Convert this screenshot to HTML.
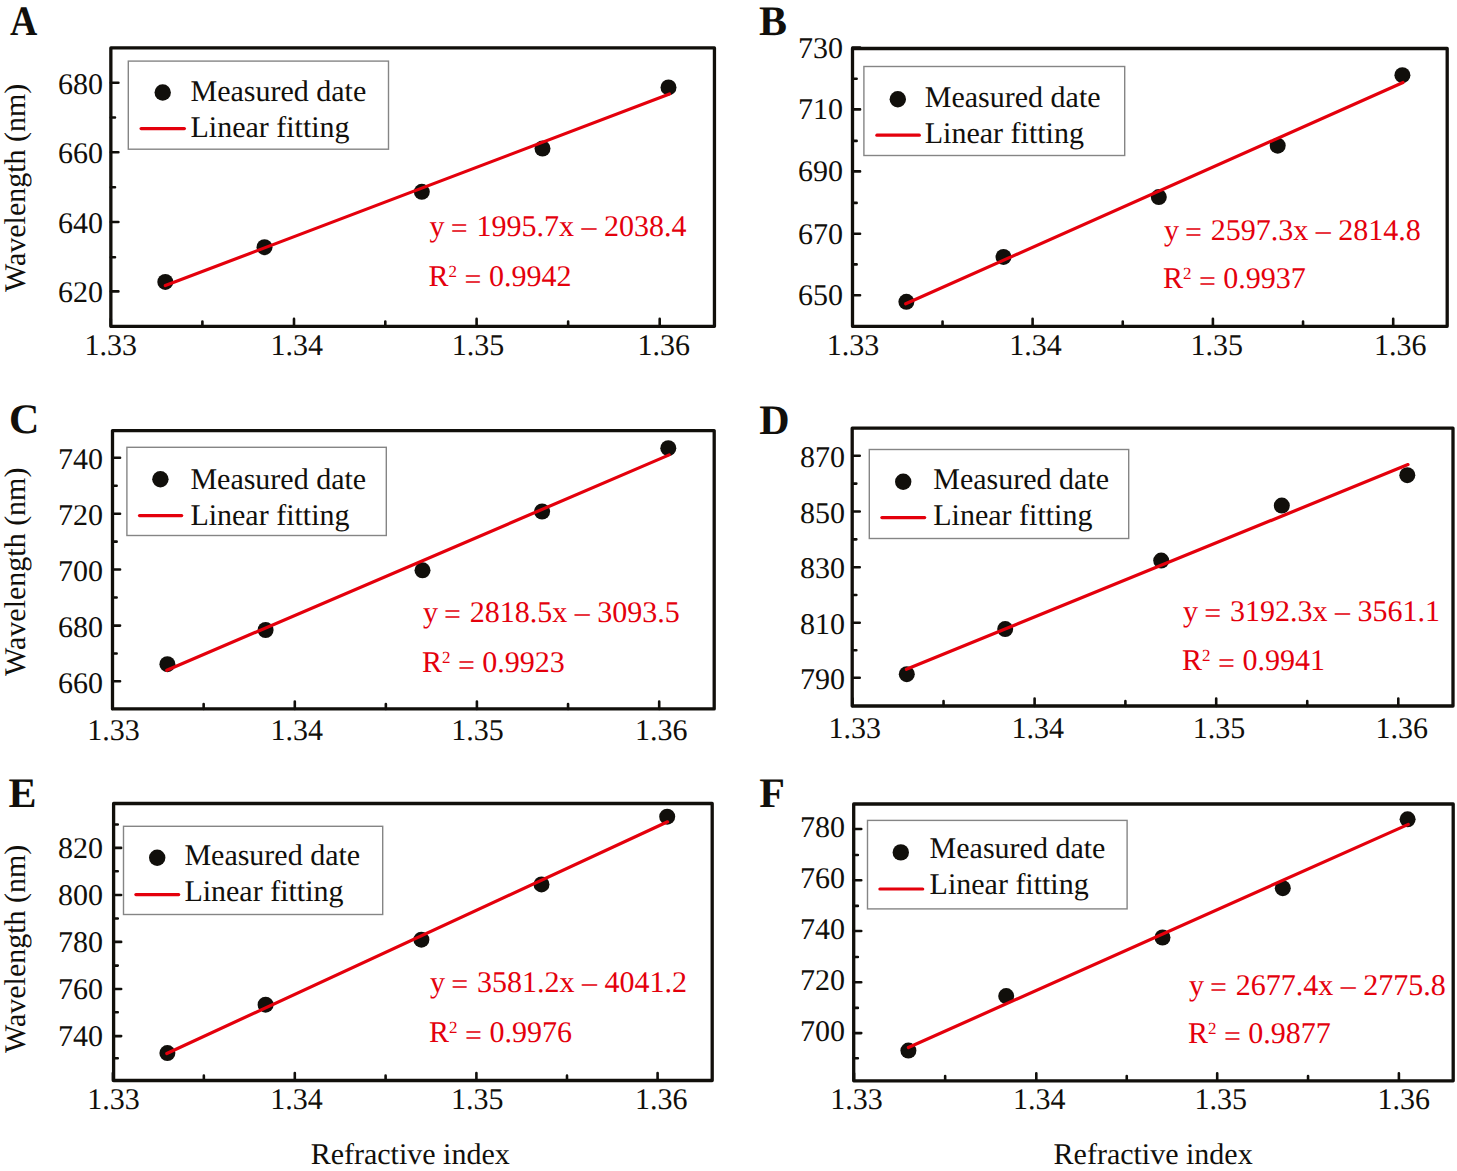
<!DOCTYPE html>
<html><head><meta charset="utf-8"><style>
html,body{margin:0;padding:0;background:#fff;}
text{text-rendering:geometricPrecision;-webkit-font-smoothing:antialiased;}
svg{display:block;}
</style></head><body>
<svg width="1457" height="1171" viewBox="0 0 1457 1171" font-family="Liberation Serif" font-size="30" fill="#110f0b">
<rect width="1457" height="1171" fill="#fff"/>
<path d="M110.80 326.35V318.90 M294.00 326.35V318.90 M476.60 326.35V318.90 M659.70 326.35V318.90 M202.40 326.35V321.50 M385.30 326.35V321.50 M568.15 326.35V321.50 M110.85 82.80H118.40 M110.85 152.20H118.40 M110.85 222.00H118.40 M110.85 291.40H118.40 M110.85 117.50H115.00 M110.85 187.30H115.00 M110.85 257.20H115.00" stroke="#110f0b" stroke-width="2.6" fill="none" stroke-linecap="round"/>
<rect x="110.85" y="47.95" width="603.60" height="278.40" fill="none" stroke="#110f0b" stroke-width="3.3" stroke-linejoin="round"/>
<text x="58.00" y="93.80">680</text>
<text x="58.00" y="163.20">660</text>
<text x="58.00" y="233.00">640</text>
<text x="58.00" y="302.40">620</text>
<text x="84.45" y="355.00">1.33</text>
<text x="270.50" y="355.00">1.34</text>
<text x="451.70" y="355.00">1.35</text>
<text x="637.40" y="355.00">1.36</text>
<circle cx="165.30" cy="281.90" r="8.0" fill="#110f0b"/>
<circle cx="264.50" cy="247.20" r="8.0" fill="#110f0b"/>
<circle cx="421.80" cy="191.80" r="8.0" fill="#110f0b"/>
<circle cx="542.50" cy="148.50" r="8.0" fill="#110f0b"/>
<circle cx="668.50" cy="87.40" r="8.0" fill="#110f0b"/>
<path d="M165.30 285.60L669.50 94.00" stroke="#e4000c" stroke-width="3.2" fill="none" stroke-linecap="round"/>
<rect x="128.30" y="61.10" width="260.20" height="88.10" fill="#fff" stroke="#858585" stroke-width="1.4"/>
<circle cx="162.70" cy="92.50" r="8.2" fill="#110f0b"/>
<path d="M141.10 128.60H184.40" stroke="#e4000c" stroke-width="3.2" stroke-linecap="round"/>
<text x="190.50" y="101.10">Measured date</text>
<text x="190.50" y="136.90">Linear fitting</text>
<text x="429.60" y="236.10" fill="#e4000c">y <tspan dx="-1.3" dy="2.3">=</tspan><tspan dx="1.3" dy="-2.3"> 1995.7x – 2038.4</tspan></text>
<text x="428.60" y="285.90" fill="#e4000c">R<tspan font-size="17" dy="-9">2</tspan><tspan dy="9"> </tspan><tspan dy="2.8">=</tspan><tspan dy="-2.8"> 0.9942</tspan></text>
<text transform="translate(9.90 35.00) scale(0.9 1)" x="0.00" y="0" font-size="42" font-weight="700">A</text>
<text transform="translate(25.10 292.00) rotate(-90)" x="0" y="0">Wavelength (nm)</text>
<path d="M852.50 326.30V318.85 M1032.60 326.30V318.85 M1212.90 326.30V318.85 M1393.20 326.30V318.85 M942.55 326.30V321.45 M1122.75 326.30V321.45 M1303.05 326.30V321.45 M852.50 47.50H860.05 M852.50 109.40H860.05 M852.50 171.40H860.05 M852.50 233.70H860.05 M852.50 295.20H860.05 M852.50 78.70H856.65 M852.50 140.90H856.65 M852.50 202.90H856.65 M852.50 264.40H856.65" stroke="#110f0b" stroke-width="2.6" fill="none" stroke-linecap="round"/>
<rect x="852.50" y="48.50" width="594.70" height="277.80" fill="none" stroke="#110f0b" stroke-width="3.3" stroke-linejoin="round"/>
<text x="797.90" y="57.50">730</text>
<text x="797.90" y="119.40">710</text>
<text x="797.90" y="181.40">690</text>
<text x="797.90" y="243.70">670</text>
<text x="797.90" y="305.20">650</text>
<text x="826.70" y="354.80">1.33</text>
<text x="1009.15" y="354.80">1.34</text>
<text x="1190.60" y="354.80">1.35</text>
<text x="1374.00" y="354.80">1.36</text>
<circle cx="906.40" cy="301.80" r="8.0" fill="#110f0b"/>
<circle cx="1003.50" cy="256.90" r="8.0" fill="#110f0b"/>
<circle cx="1158.80" cy="197.10" r="8.0" fill="#110f0b"/>
<circle cx="1277.70" cy="145.70" r="8.0" fill="#110f0b"/>
<circle cx="1402.40" cy="75.20" r="8.0" fill="#110f0b"/>
<path d="M905.70 303.80L1403.00 82.50" stroke="#e4000c" stroke-width="3.2" fill="none" stroke-linecap="round"/>
<rect x="863.90" y="66.50" width="260.80" height="89.00" fill="#fff" stroke="#858585" stroke-width="1.4"/>
<circle cx="897.80" cy="99.20" r="8.2" fill="#110f0b"/>
<path d="M876.90 135.20H919.30" stroke="#e4000c" stroke-width="3.2" stroke-linecap="round"/>
<text x="924.80" y="107.10">Measured date</text>
<text x="924.80" y="142.60">Linear fitting</text>
<text x="1163.90" y="239.60" fill="#e4000c">y <tspan dx="-1.3" dy="2.3">=</tspan><tspan dx="1.3" dy="-2.3"> 2597.3x – 2814.8</tspan></text>
<text x="1162.90" y="288.10" fill="#e4000c">R<tspan font-size="17" dy="-9">2</tspan><tspan dy="9"> </tspan><tspan dy="2.8">=</tspan><tspan dy="-2.8"> 0.9937</tspan></text>
<text transform="translate(760.10 35.00) scale(1.0 1)" x="-1.00" y="0" font-size="42" font-weight="700">B</text>
<path d="M112.50 708.90V701.45 M294.80 708.90V701.45 M476.90 708.90V701.45 M659.20 708.90V701.45 M203.65 708.90V704.05 M385.85 708.90V704.05 M568.05 708.90V704.05 M112.50 457.70H120.05 M112.50 513.80H120.05 M112.50 569.50H120.05 M112.50 625.60H120.05 M112.50 681.30H120.05 M112.50 485.75H116.65 M112.50 541.65H116.65 M112.50 597.55H116.65 M112.50 653.45H116.65" stroke="#110f0b" stroke-width="2.6" fill="none" stroke-linecap="round"/>
<rect x="112.50" y="430.60" width="601.70" height="278.30" fill="none" stroke="#110f0b" stroke-width="3.3" stroke-linejoin="round"/>
<text x="58.10" y="469.00">740</text>
<text x="58.10" y="525.10">720</text>
<text x="58.10" y="580.80">700</text>
<text x="58.10" y="636.90">680</text>
<text x="58.10" y="692.60">660</text>
<text x="87.35" y="739.80">1.33</text>
<text x="270.50" y="739.80">1.34</text>
<text x="451.30" y="739.80">1.35</text>
<text x="635.00" y="739.80">1.36</text>
<circle cx="167.40" cy="664.20" r="8.0" fill="#110f0b"/>
<circle cx="265.60" cy="630.00" r="8.0" fill="#110f0b"/>
<circle cx="422.50" cy="570.30" r="8.0" fill="#110f0b"/>
<circle cx="542.10" cy="511.50" r="8.0" fill="#110f0b"/>
<circle cx="668.30" cy="448.20" r="8.0" fill="#110f0b"/>
<path d="M166.80 670.30L669.20 454.90" stroke="#e4000c" stroke-width="3.2" fill="none" stroke-linecap="round"/>
<rect x="126.90" y="447.30" width="259.40" height="88.20" fill="#fff" stroke="#858585" stroke-width="1.4"/>
<circle cx="160.40" cy="479.20" r="8.2" fill="#110f0b"/>
<path d="M139.50 515.60H181.70" stroke="#e4000c" stroke-width="3.2" stroke-linecap="round"/>
<text x="190.40" y="488.70">Measured date</text>
<text x="190.40" y="524.60">Linear fitting</text>
<text x="422.90" y="622.10" fill="#e4000c">y <tspan dx="-1.3" dy="2.3">=</tspan><tspan dx="1.3" dy="-2.3"> 2818.5x – 3093.5</tspan></text>
<text x="421.90" y="672.10" fill="#e4000c">R<tspan font-size="17" dy="-9">2</tspan><tspan dy="9"> </tspan><tspan dy="2.8">=</tspan><tspan dy="-2.8"> 0.9923</tspan></text>
<text transform="translate(11.00 433.00) scale(1.0 1)" x="-2.00" y="0" font-size="42" font-weight="700">C</text>
<text transform="translate(25.10 675.90) rotate(-90)" x="0" y="0">Wavelength (nm)</text>
<path d="M852.50 706.00V698.55 M1034.60 706.00V698.55 M1216.20 706.00V698.55 M1398.30 706.00V698.55 M943.55 706.00V701.15 M1125.40 706.00V701.15 M1307.25 706.00V701.15 M852.20 455.70H859.75 M852.20 511.50H859.75 M852.20 567.20H859.75 M852.20 622.70H859.75 M852.20 677.80H859.75 M852.20 483.60H856.35 M852.20 539.35H856.35 M852.20 594.95H856.35 M852.20 650.25H856.35" stroke="#110f0b" stroke-width="2.6" fill="none" stroke-linecap="round"/>
<rect x="852.20" y="428.20" width="600.80" height="277.80" fill="none" stroke="#110f0b" stroke-width="3.3" stroke-linejoin="round"/>
<text x="800.00" y="466.70">870</text>
<text x="800.00" y="522.50">850</text>
<text x="800.00" y="578.20">830</text>
<text x="800.00" y="633.70">810</text>
<text x="800.00" y="688.80">790</text>
<text x="828.50" y="738.20">1.33</text>
<text x="1011.40" y="738.20">1.34</text>
<text x="1192.70" y="738.20">1.35</text>
<text x="1375.50" y="738.20">1.36</text>
<circle cx="906.80" cy="674.20" r="8.0" fill="#110f0b"/>
<circle cx="1005.20" cy="629.10" r="8.0" fill="#110f0b"/>
<circle cx="1161.20" cy="560.60" r="8.0" fill="#110f0b"/>
<circle cx="1281.80" cy="505.60" r="8.0" fill="#110f0b"/>
<circle cx="1407.30" cy="475.20" r="8.0" fill="#110f0b"/>
<path d="M906.40 669.30L1408.00 464.60" stroke="#e4000c" stroke-width="3.2" fill="none" stroke-linecap="round"/>
<rect x="869.30" y="449.50" width="259.40" height="89.00" fill="#fff" stroke="#858585" stroke-width="1.4"/>
<circle cx="903.20" cy="481.80" r="8.2" fill="#110f0b"/>
<path d="M881.90 517.60H924.70" stroke="#e4000c" stroke-width="3.2" stroke-linecap="round"/>
<text x="933.30" y="488.90">Measured date</text>
<text x="933.30" y="525.00">Linear fitting</text>
<text x="1183.10" y="621.10" fill="#e4000c">y <tspan dx="-1.3" dy="2.3">=</tspan><tspan dx="1.3" dy="-2.3"> 3192.3x – 3561.1</tspan></text>
<text x="1182.10" y="670.20" fill="#e4000c">R<tspan font-size="17" dy="-9">2</tspan><tspan dy="9"> </tspan><tspan dy="2.8">=</tspan><tspan dy="-2.8"> 0.9941</tspan></text>
<text transform="translate(760.30 433.50) scale(1.0 1)" x="-1.00" y="0" font-size="42" font-weight="700">D</text>
<path d="M112.90 1080.50V1073.05 M294.80 1080.50V1073.05 M476.40 1080.50V1073.05 M657.60 1080.50V1073.05 M203.85 1080.50V1075.65 M385.60 1080.50V1075.65 M567.00 1080.50V1075.65 M113.60 847.90H121.15 M113.60 895.00H121.15 M113.60 941.90H121.15 M113.60 989.00H121.15 M113.60 1036.10H121.15 M113.60 824.50H117.75 M113.60 871.30H117.75 M113.60 918.50H117.75 M113.60 965.60H117.75 M113.60 1012.20H117.75 M113.60 1058.30H117.75" stroke="#110f0b" stroke-width="2.6" fill="none" stroke-linecap="round"/>
<rect x="113.60" y="803.50" width="598.60" height="277.00" fill="none" stroke="#110f0b" stroke-width="3.3" stroke-linejoin="round"/>
<text x="58.10" y="858.00">820</text>
<text x="58.10" y="905.10">800</text>
<text x="58.10" y="952.00">780</text>
<text x="58.10" y="999.10">760</text>
<text x="58.10" y="1046.20">740</text>
<text x="87.35" y="1109.30">1.33</text>
<text x="270.20" y="1109.30">1.34</text>
<text x="451.00" y="1109.30">1.35</text>
<text x="635.00" y="1109.30">1.36</text>
<circle cx="167.40" cy="1053.10" r="8.0" fill="#110f0b"/>
<circle cx="265.60" cy="1004.70" r="8.0" fill="#110f0b"/>
<circle cx="421.40" cy="939.70" r="8.0" fill="#110f0b"/>
<circle cx="541.50" cy="884.40" r="8.0" fill="#110f0b"/>
<circle cx="667.20" cy="816.70" r="8.0" fill="#110f0b"/>
<path d="M166.80 1053.50L667.60 821.80" stroke="#e4000c" stroke-width="3.2" fill="none" stroke-linecap="round"/>
<rect x="123.50" y="826.30" width="259.20" height="88.20" fill="#fff" stroke="#858585" stroke-width="1.4"/>
<circle cx="157.20" cy="857.80" r="8.2" fill="#110f0b"/>
<path d="M135.90 894.60H178.70" stroke="#e4000c" stroke-width="3.2" stroke-linecap="round"/>
<text x="184.40" y="864.60">Measured date</text>
<text x="184.40" y="901.00">Linear fitting</text>
<text x="430.00" y="992.10" fill="#e4000c">y <tspan dx="-1.3" dy="2.3">=</tspan><tspan dx="1.3" dy="-2.3"> 3581.2x – 4041.2</tspan></text>
<text x="429.00" y="1042.10" fill="#e4000c">R<tspan font-size="17" dy="-9">2</tspan><tspan dy="9"> </tspan><tspan dy="2.8">=</tspan><tspan dy="-2.8"> 0.9976</tspan></text>
<text transform="translate(9.40 806.50) scale(1.0 1)" x="-1.00" y="0" font-size="42" font-weight="700">E</text>
<text transform="translate(25.10 1053.00) rotate(-90)" x="0" y="0">Wavelength (nm)</text>
<text x="310.70" y="1163.80">Refractive index</text>
<path d="M854.00 1080.80V1073.35 M1036.30 1080.80V1073.35 M1217.20 1080.80V1073.35 M1398.90 1080.80V1073.35 M945.15 1080.80V1075.95 M1126.75 1080.80V1075.95 M1308.05 1080.80V1075.95 M853.70 829.00H861.25 M853.70 880.20H861.25 M853.70 931.00H861.25 M853.70 982.20H861.25 M853.70 1033.10H861.25 M853.70 855.00H857.85 M853.70 905.90H857.85 M853.70 957.00H857.85 M853.70 1007.90H857.85 M853.70 1058.30H857.85" stroke="#110f0b" stroke-width="2.6" fill="none" stroke-linecap="round"/>
<rect x="853.70" y="804.00" width="599.50" height="276.80" fill="none" stroke="#110f0b" stroke-width="3.3" stroke-linejoin="round"/>
<text x="800.00" y="836.60">780</text>
<text x="800.00" y="887.80">760</text>
<text x="800.00" y="938.60">740</text>
<text x="800.00" y="989.80">720</text>
<text x="800.00" y="1040.70">700</text>
<text x="830.35" y="1109.30">1.33</text>
<text x="1012.90" y="1109.30">1.34</text>
<text x="1194.60" y="1109.30">1.35</text>
<text x="1377.40" y="1109.30">1.36</text>
<circle cx="908.40" cy="1050.60" r="8.0" fill="#110f0b"/>
<circle cx="1006.20" cy="996.10" r="8.0" fill="#110f0b"/>
<circle cx="1162.50" cy="937.50" r="8.0" fill="#110f0b"/>
<circle cx="1282.80" cy="888.20" r="8.0" fill="#110f0b"/>
<circle cx="1407.60" cy="819.30" r="8.0" fill="#110f0b"/>
<path d="M908.40 1047.50L1408.30 824.40" stroke="#e4000c" stroke-width="3.2" fill="none" stroke-linecap="round"/>
<rect x="867.50" y="820.40" width="259.60" height="88.50" fill="#fff" stroke="#858585" stroke-width="1.4"/>
<circle cx="900.80" cy="852.40" r="8.2" fill="#110f0b"/>
<path d="M879.90 889.00H922.70" stroke="#e4000c" stroke-width="3.2" stroke-linecap="round"/>
<text x="929.60" y="857.80">Measured date</text>
<text x="929.60" y="893.60">Linear fitting</text>
<text x="1188.90" y="994.80" fill="#e4000c">y <tspan dx="-1.3" dy="2.3">=</tspan><tspan dx="1.3" dy="-2.3"> 2677.4x – 2775.8</tspan></text>
<text x="1187.90" y="1043.20" fill="#e4000c">R<tspan font-size="17" dy="-9">2</tspan><tspan dy="9"> </tspan><tspan dy="2.8">=</tspan><tspan dy="-2.8"> 0.9877</tspan></text>
<text transform="translate(760.30 806.50) scale(1.0 1)" x="-1.00" y="0" font-size="42" font-weight="700">F</text>
<text x="1053.60" y="1163.80">Refractive index</text>
</svg>
</body></html>
